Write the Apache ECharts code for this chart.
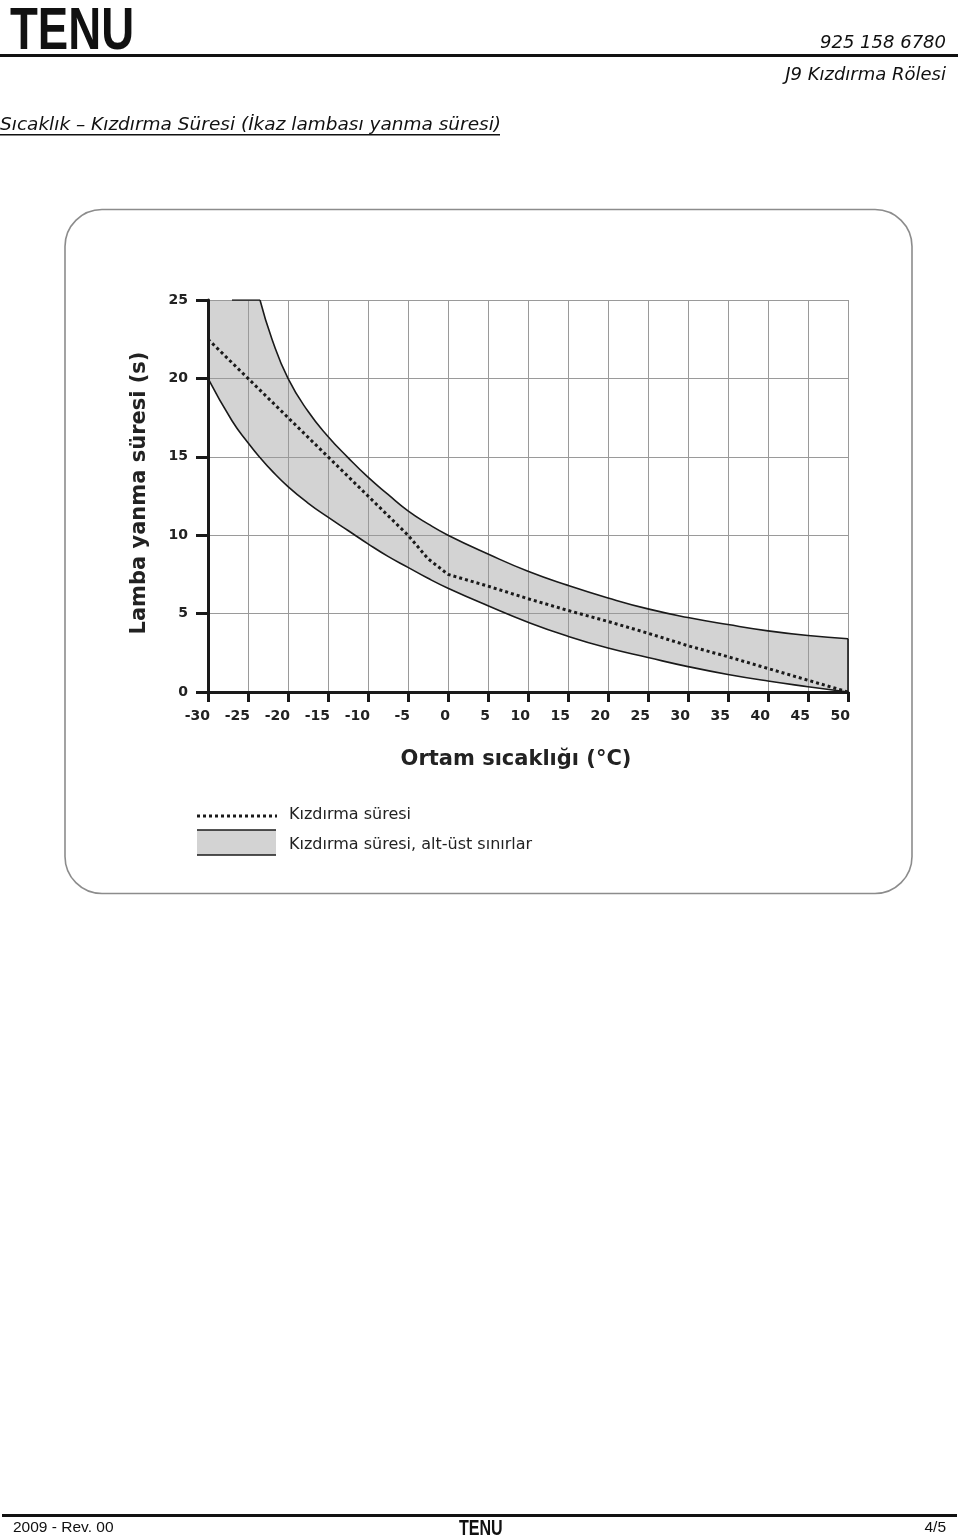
<!DOCTYPE html>
<html><head><meta charset="utf-8">
<script src="https://cdn.jsdelivr.net/npm/echarts@6/dist/echarts.min.js"></script>
<style>html,body{margin:0;padding:0;background:#fff}#c{width:960px;height:1539px}</style>
</head><body><div id="c"></div>
<script>
// ---- data ----
const temps = [-30, -27, -25, -23.5, -22, -20, -17.5, -15, -12.5, -10, -7.5, -5, -2.5, 0, 5, 10, 15, 20, 25, 30, 35, 40, 45, 50];
const upper = [25, 25, 25, 25, 22.5, 20, 17.9, 16.3, 14.95, 13.7, 12.6, 11.55, 10.72, 10.0, 8.8, 7.7, 6.8, 6.0, 5.3, 4.75, 4.3, 3.9, 3.6, 3.4];
const lower = [20, 17.3, 15.9, 14.95, 14.1, 13.1, 12.05, 11.15, 10.3, 9.45, 8.65, 7.95, 7.25, 6.62, 5.5, 4.45, 3.55, 2.8, 2.2, 1.62, 1.12, 0.7, 0.34, 0];
const midTemps = [-30, -25, -20, -15, -10, -5, -2.5, 0, 5, 10, 15, 20, 25, 30, 35, 40, 45, 50];
const mid = [22.5, 20, 17.5, 15, 12.5, 10, 8.5, 7.5, 6.75, 5.95, 5.2, 4.5, 3.75, 2.95, 2.25, 1.5, 0.75, 0];
const upperCornerTemp = -23.5;   // where the upper limit leaves the 25 s ceiling
const upperLineStart = -27;      // where the drawn upper outline begins
const xMin = -30, xMax = 50, xStep = 5;
const yMin = 0, yMax = 25, yStep = 5;

const texts = {
  phone: '925 158 6780',
  product: 'J9 Kızdırma Rölesi',
  title: 'Sıcaklık – Kızdırma Süresi (İkaz lambası yanma süresi)',
  yName: 'Lamba yanma süresi (s)',
  xName: 'Ortam sıcaklığı (°C)',
  legMid: 'Kızdırma süresi',
  legBand: 'Kızdırma süresi, alt-üst sınırlar',
  footLeft: '2009 - Rev. 00',
  footRight: '4/5',
  brand: 'TENU'
};

const pair = (xs, ys) => xs.map((x, i) => [x, ys[i]]);
const up = pair(temps, upper);
const ci = temps.indexOf(upperCornerTemp);
const upperFlat = up.slice(0, ci + 1);
const upperCurve = up.slice(ci);
const upperFlatLine = upperFlat.filter(p => p[0] >= upperLineStart);
const last = temps.length - 1;
const edgeLine = [[temps[last], lower[last]], [temps[last], upper[last]]];

const INK = '#1a1a1a', FILL = '#d3d3d3', GRID = '#9a9a9a';
const CF = "'DejaVu Sans', sans-serif";
const SM = 0.5;

const chart = echarts.init(document.getElementById('c'), null, {renderer: 'canvas'});
chart.setOption({
  backgroundColor: '#fff',
  animation: false,
  grid: {left: 208, top: 300, right: 112, bottom: 847, containLabel: false},
  xAxis: {
    type: 'value', min: xMin, max: xMax, interval: xStep, z: 3,
    axisLine: {onZero: false, lineStyle: {color: INK, width: 3}},
    axisTick: {length: 10, lineStyle: {color: INK, width: 3}},
    axisLabel: {margin: 17, color: '#222', fontFamily: CF, fontWeight: 'bold', fontSize: 14, align: 'right', padding: [0, -2, 0, 0]},
    splitLine: {lineStyle: {color: GRID, width: 1}}
  },
  yAxis: {
    type: 'value', min: yMin, max: yMax, interval: yStep, z: 3,
    axisLine: {show: true, onZero: false, lineStyle: {color: INK, width: 3}},
    axisTick: {show: true, length: 12, lineStyle: {color: INK, width: 3}},
    axisLabel: {margin: 20, color: '#222', fontFamily: CF, fontWeight: 'bold', fontSize: 14},
    splitLine: {lineStyle: {color: GRID, width: 1}}
  },
  series: [
    {type: 'line', name: 'upperAreaFlat', data: upperFlat, symbol: 'none',
     lineStyle: {width: 0, opacity: 0}, areaStyle: {color: FILL, opacity: 1, origin: 'start'}, z: 1, silent: true},
    {type: 'line', name: 'upperAreaCurve', data: upperCurve, smooth: SM, symbol: 'none',
     lineStyle: {width: 0, opacity: 0}, areaStyle: {color: FILL, opacity: 1, origin: 'start'}, z: 1, silent: true},
    {type: 'line', name: 'lowerArea', data: pair(temps, lower), smooth: SM, symbol: 'none',
     lineStyle: {width: 0, opacity: 0}, areaStyle: {color: '#ffffff', opacity: 1, origin: 'start'}, z: 2, silent: true},
    {type: 'line', name: 'lower', data: pair(temps, lower), smooth: SM, symbol: 'none',
     lineStyle: {color: INK, width: 1.6}, z: 5},
    {type: 'line', name: 'upperFlat', data: upperFlatLine, symbol: 'none',
     lineStyle: {color: INK, width: 1.6}, z: 5},
    {type: 'line', name: 'upper', data: upperCurve, smooth: SM, symbol: 'none',
     lineStyle: {color: INK, width: 1.6}, z: 5},
    {type: 'line', name: 'edge', data: edgeLine, symbol: 'none',
     lineStyle: {color: INK, width: 1.6}, z: 5},
    {type: 'line', name: 'mid', data: pair(midTemps, mid), symbol: 'none',
     lineStyle: {color: INK, width: 3, type: [3, 3]}, z: 6}
  ],
  graphic: [
    // header
    {type: 'text', x: 10, y: 2, scaleX: 0.76, z: 10,
     style: {text: texts.brand, font: "bold 60px 'Liberation Sans', sans-serif", fill: '#111', textVerticalAlign: 'top'}},
    {type: 'rect', shape: {x: 0, y: 54, width: 958, height: 3}, style: {fill: '#111'}},
    {type: 'text', x: 946, y: 43, style: {text: texts.phone, font: "italic 18px 'DejaVu Sans', sans-serif", fill: '#111', textAlign: 'right', textVerticalAlign: 'middle'}},
    {type: 'text', x: 946, y: 75, style: {text: texts.product, font: "italic 18px 'DejaVu Sans', sans-serif", fill: '#111', textAlign: 'right', textVerticalAlign: 'middle'}},
    {type: 'text', x: 0, y: 125, style: {text: texts.title, font: "italic 18.5px 'DejaVu Sans', sans-serif", fill: '#111', textAlign: 'left', textVerticalAlign: 'middle'}},
    {type: 'rect', shape: {x: 0, y: 134, width: 500, height: 1.5}, style: {fill: '#111'}},
    // frame
    {type: 'rect', shape: {x: 65, y: 209.5, width: 847, height: 684, r: 37}, style: {fill: 'none', stroke: '#8c8c8c', lineWidth: 1.6}, z: -1},
    // axis names
    {type: 'text', x: 140, y: 493, rotation: Math.PI / 2,
     style: {text: texts.yName, font: "bold 21px 'DejaVu Sans', sans-serif", fill: '#222', textAlign: 'center', textVerticalAlign: 'middle'}},
    {type: 'text', x: 516, y: 760,
     style: {text: texts.xName, font: "bold 21px 'DejaVu Sans', sans-serif", fill: '#222', textAlign: 'center', textVerticalAlign: 'middle'}},
    // legend
    {type: 'line', shape: {x1: 197, y1: 816, x2: 277, y2: 816}, style: {stroke: INK, lineWidth: 3, lineDash: [3, 3]}},
    {type: 'rect', shape: {x: 197, y: 830, width: 79, height: 25}, style: {fill: FILL}},
    {type: 'line', shape: {x1: 197, y1: 830, x2: 276, y2: 830}, style: {stroke: INK, lineWidth: 1.6}},
    {type: 'line', shape: {x1: 197, y1: 855, x2: 276, y2: 855}, style: {stroke: INK, lineWidth: 1.6}},
    {type: 'text', x: 289, y: 815, style: {text: texts.legMid, font: "16px 'DejaVu Sans', sans-serif", fill: '#222', textVerticalAlign: 'middle'}},
    {type: 'text', x: 289, y: 845, style: {text: texts.legBand, font: "16px 'DejaVu Sans', sans-serif", fill: '#222', textVerticalAlign: 'middle'}},
    // footer
    {type: 'rect', shape: {x: 2, y: 1514, width: 955, height: 3}, style: {fill: '#111'}},
    {type: 'text', x: 13, y: 1528, style: {text: texts.footLeft, font: "15.5px 'Liberation Sans', sans-serif", fill: '#111', textVerticalAlign: 'middle'}},
    {type: 'text', x: 946, y: 1528, style: {text: texts.footRight, font: "15.5px 'Liberation Sans', sans-serif", fill: '#111', textAlign: 'right', textVerticalAlign: 'middle'}},
    {type: 'text', x: 459, y: 1518, scaleX: 0.73,
     style: {text: texts.brand, font: "bold 22px 'Liberation Sans', sans-serif", fill: '#111', textVerticalAlign: 'top'}}
  ]
});
</script></body></html>
